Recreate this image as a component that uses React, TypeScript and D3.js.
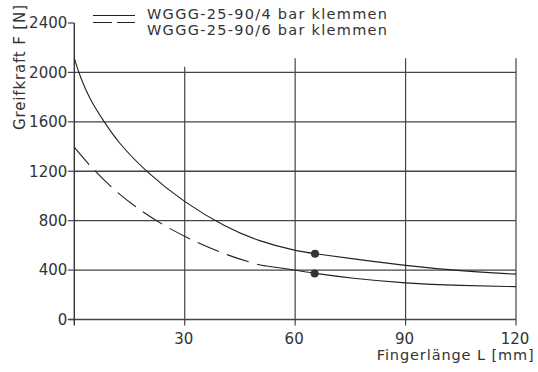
import React from "react";
import * as d3 from "d3";

const xTicks = [30, 60, 90, 120];
const yTicks = [0, 400, 800, 1200, 1600, 2000, 2400];
const gridY = [400, 800, 1200, 1600, 2000];
// top end (in N) of each vertical grid line
const gridXTop = [2045, 2115, 2115, 2115];

const legendLabels = ["WGGG-25-90/4 bar klemmen", "WGGG-25-90/6 bar klemmen"];
const xTitle = "Fingerlänge L [mm]";
const yTitle = "Greifkraft F [N]";

// 4 bar curve
const bar4X = [0, 1.7, 4.5, 8.1, 11.7, 19.4, 30, 41, 50, 60, 65.4, 75, 90, 105, 120];
const bar4Y = [2115, 1953, 1764, 1602, 1440, 1197, 945, 750, 634, 557, 532, 494, 435, 393, 367];

// 6 bar curve: dashed part, then solid part
const bar6DashX = [0, 4, 10.2, 17.4, 25.1, 33.3, 41.4, 50, 52.3];
const bar6DashY = [1395, 1251, 1062, 892, 746, 622, 522, 441, 433];
const bar6SolidX = [52.3, 60, 65.3, 75, 90, 105, 120];
const bar6SolidY = [433, 400, 373, 335, 293, 274, 266];

// marked points
const markX = [65.4, 65.3];
const markY = [532, 373];

const FONT = "DejaVu Sans, Verdana, sans-serif";
const INK = "#333";

export default function App() {
  const x = d3.scaleLinear().domain([0, 120]).range([74.3, 516]);
  const y = d3.scaleLinear().domain([0, 2400]).range([319.5, 23]);
  const line = d3
    .line<[number, number]>()
    .x((d) => x(d[0]))
    .y((d) => y(d[1]))
    .curve(d3.curveBasis);
  const zip = (a: number[], b: number[]) => a.map((v, i) => [v, b[i]] as [number, number]);

  const axisBottom = 325.5;

  return (
    <svg
      width={538}
      height={372}
      style={{ position: "absolute", left: 0, top: 0, background: "#fff" }}
      fontFamily={FONT}
    >
      <rect width={538} height={372} fill="#fff" />
      {/* horizontal grid */}
      {gridY.map((v) => (
        <line key={"gy" + v} x1={x(0)} x2={x(120)} y1={y(v)} y2={y(v)} stroke="#444" strokeWidth={1.3} />
      ))}
      {/* x axis (0 line) */}
      <line x1={x(0) - 6} x2={x(120)} y1={y(0)} y2={y(0)} stroke="#444" strokeWidth={1.3} />
      {/* vertical grid */}
      {xTicks.map((v, i) => (
        <line key={"gx" + v} x1={x(v)} x2={x(v)} y1={y(gridXTop[i])} y2={axisBottom} stroke="#444" strokeWidth={1.2} />
      ))}
      {/* y axis */}
      <line x1={x(0)} x2={x(0)} y1={y(2400)} y2={axisBottom} stroke="#333" strokeWidth={1.4} />
      {/* y ticks */}
      {yTicks.map((v) => (
        <g key={"yt" + v}>
          <line x1={x(0) - 6.5} x2={x(0)} y1={y(v)} y2={y(v)} stroke="#444" strokeWidth={1.2} />
          <text x={x(0) - 7} y={y(v)} dy="0.35em" textAnchor="end" fontSize={15} fill={INK}>
            {v}
          </text>
        </g>
      ))}
      {/* x tick labels */}
      {xTicks.map((v) => (
        <text key={"xt" + v} x={x(v) - 1} y={344} textAnchor="middle" fontSize={15} fill={INK}>
          {v}
        </text>
      ))}
      {/* curves */}
      <path d={line(zip(bar4X, bar4Y)) || ""} fill="none" stroke="#222" strokeWidth={1.1} />
      <path d={line(zip(bar6DashX, bar6DashY)) || ""} fill="none" stroke="#222" strokeWidth={1.1} strokeDasharray="23 8.5" />
      <path d={line(zip(bar6SolidX, bar6SolidY)) || ""} fill="none" stroke="#222" strokeWidth={1.1} />
      {markX.map((mx, i) => (
        <circle key={"m" + i} cx={x(mx)} cy={y(markY[i])} r={4} fill="#333" />
      ))}
      {/* legend */}
      <line x1={93} x2={135} y1={15.5} y2={15.5} stroke="#222" strokeWidth={1.1} />
      <line x1={93} x2={135} y1={22.5} y2={22.5} stroke="#222" strokeWidth={1.1} strokeDasharray="19 5" />
      {legendLabels.map((t, i) => (
        <text key={t} x={147} y={19.3 + i * 15.8} fontSize={14.5} fill={INK} textLength={240} lengthAdjust="spacing">
          {t}
        </text>
      ))}
      {/* axis titles */}
      <text x={376.7} y={360} fontSize={14.5} fill={INK} textLength={157} lengthAdjust="spacing">
        {xTitle}
      </text>
      <text transform="translate(25,130) rotate(-90)" fontSize={15} fill={INK} textLength={125} lengthAdjust="spacing">
        {yTitle}
      </text>
    </svg>
  );
}
